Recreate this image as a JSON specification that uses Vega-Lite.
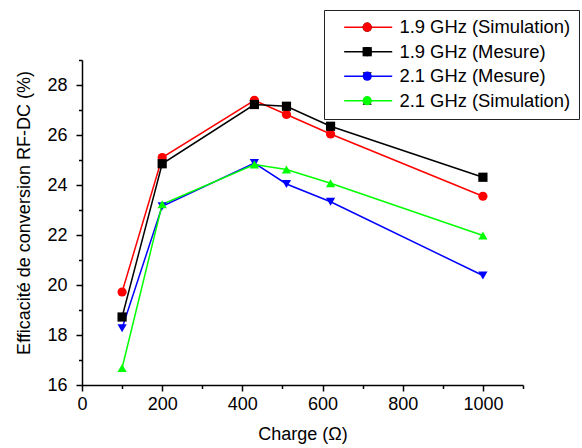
{
  "$schema": "https://vega.github.io/schema/vega-lite/v6.json",
  "width": 441,
  "height": 325,
  "autosize": {"type": "none"},
  "padding": {"left": 82, "top": 60, "right": 59, "bottom": 63},
  "background": "white",
  "config": {
    "view": {"stroke": null},
    "font": "Liberation Sans",
    "axis": {
      "grid": false,
      "domainColor": "black",
      "domainWidth": 1.5,
      "tickColor": "black",
      "tickWidth": 1.5,
      "labelColor": "black",
      "labelFont": "Liberation Sans",
      "labelFontSize": 18,
      "titleFont": "Liberation Sans",
      "titleFontSize": 18,
      "titleFontWeight": "normal",
      "titleColor": "black"
    }
  },
  "data": {
    "values": [
      {"series": "1.9 GHz (Simulation)", "charge": 100, "eff": 19.72},
      {"series": "1.9 GHz (Simulation)", "charge": 200, "eff": 25.10},
      {"series": "1.9 GHz (Simulation)", "charge": 430, "eff": 27.39},
      {"series": "1.9 GHz (Simulation)", "charge": 510, "eff": 26.82},
      {"series": "1.9 GHz (Simulation)", "charge": 620, "eff": 26.04},
      {"series": "1.9 GHz (Simulation)", "charge": 1000, "eff": 23.55},
      {"series": "1.9 GHz (Mesure)", "charge": 100, "eff": 18.72},
      {"series": "1.9 GHz (Mesure)", "charge": 200, "eff": 24.85},
      {"series": "1.9 GHz (Mesure)", "charge": 430, "eff": 27.22},
      {"series": "1.9 GHz (Mesure)", "charge": 510, "eff": 27.15},
      {"series": "1.9 GHz (Mesure)", "charge": 620, "eff": 26.35},
      {"series": "1.9 GHz (Mesure)", "charge": 1000, "eff": 24.31},
      {"series": "2.1 GHz (Mesure)", "charge": 100, "eff": 18.27},
      {"series": "2.1 GHz (Mesure)", "charge": 200, "eff": 23.15},
      {"series": "2.1 GHz (Mesure)", "charge": 430, "eff": 24.88},
      {"series": "2.1 GHz (Mesure)", "charge": 510, "eff": 24.04},
      {"series": "2.1 GHz (Mesure)", "charge": 620, "eff": 23.33},
      {"series": "2.1 GHz (Mesure)", "charge": 1000, "eff": 20.38},
      {"series": "2.1 GHz (Simulation)", "charge": 100, "eff": 16.68},
      {"series": "2.1 GHz (Simulation)", "charge": 200, "eff": 23.23},
      {"series": "2.1 GHz (Simulation)", "charge": 430, "eff": 24.82},
      {"series": "2.1 GHz (Simulation)", "charge": 510, "eff": 24.62},
      {"series": "2.1 GHz (Simulation)", "charge": 620, "eff": 24.07},
      {"series": "2.1 GHz (Simulation)", "charge": 1000, "eff": 21.98}
    ]
  },
  "encoding": {
    "x": {
      "field": "charge",
      "type": "quantitative",
      "scale": {"domain": [0, 1100], "nice": false, "zero": false},
      "axis": {
        "title": "Charge (Ω)",
        "values": [0, 100, 200, 300, 400, 500, 600, 700, 800, 900, 1000, 1100],
        "format": "d",
        "labelExpr": "datum.value % 200 === 0 ? datum.label : ''",
        "tickSize": {"condition": {"test": "datum.value % 200 === 0", "value": 6}, "value": 3.5},
        "labelPadding": 4,
        "titlePadding": 12,
        "labelFlush": false,
        "labelOverlap": false
      }
    },
    "y": {
      "field": "eff",
      "type": "quantitative",
      "scale": {"domain": [16, 29], "nice": false, "zero": false},
      "axis": {
        "title": "Efficacité de conversion RF-DC (%)",
        "values": [16, 17, 18, 19, 20, 21, 22, 23, 24, 25, 26, 27, 28, 29],
        "format": "d",
        "labelExpr": "datum.value % 2 === 0 ? datum.label : ''",
        "tickSize": {"condition": {"test": "datum.value % 2 === 0", "value": 6}, "value": 3.5},
        "labelPadding": 9,
        "labelFlush": false,
        "labelOverlap": false,
        "titleX": -49,
        "titleY": 152.5,
        "titleAlign": "center"
      }
    }
  },
  "layer": [
    {
      "mark": {"type": "line", "strokeWidth": 1.5},
      "encoding": {
        "stroke": {
          "field": "series",
          "type": "nominal",
          "scale": {
            "domain": ["1.9 GHz (Simulation)", "1.9 GHz (Mesure)", "2.1 GHz (Mesure)", "2.1 GHz (Simulation)"],
            "range": ["#ff0000", "#000000", "#0000ff", "#00ff00"]
          },
          "legend": {
            "title": null,
            "orient": "none",
            "legendX": 242,
            "legendY": -50,
            "padding": 8,
            "strokeColor": "#222222",
            "symbolType": "M-3.43,0H3.43",
            "symbolSize": 196,
            "symbolStrokeWidth": 1.5,
            "symbolOffset": 27,
            "labelOffset": 22,
            "rowPadding": 5.5,
            "labelFont": "Liberation Sans",
            "labelFontSize": 18.4,
            "labelColor": "black",
            "labelLimit": 400
          }
        }
      }
    },
    {
      "mark": {"type": "point", "filled": true, "opacity": 1, "size": 85, "strokeWidth": 0},
      "encoding": {
        "fill": {
          "field": "series",
          "type": "nominal",
          "sort": ["1.9 GHz (Simulation)", "1.9 GHz (Mesure)", "2.1 GHz (Mesure)", "2.1 GHz (Simulation)"],
          "scale": {"range": ["#ff0000", "#000000", "#0000ff", "#00ff00"]},
          "legend": {
            "title": null,
            "orient": "none",
            "legendX": 242,
            "legendY": -50,
            "padding": 8,
            "symbolSize": 85,
            "symbolStrokeWidth": 0,
            "symbolOpacity": 1,
            "symbolOffset": 26,
            "labelOffset": 6,
            "rowPadding": 5.5,
            "labelFont": "Liberation Sans",
            "labelFontSize": 18.4,
            "labelOpacity": 0,
            "labelLimit": 400
          }
        },
        "shape": {
          "field": "series",
          "type": "nominal",
          "sort": ["1.9 GHz (Simulation)", "1.9 GHz (Mesure)", "2.1 GHz (Mesure)", "2.1 GHz (Simulation)"],
          "scale": {"range": ["circle", "square", "triangle-down", "triangle-up"]},
          "legend": {
            "title": null,
            "orient": "none",
            "legendX": 242,
            "legendY": -50,
            "padding": 8,
            "symbolSize": 85,
            "symbolStrokeWidth": 0,
            "symbolOpacity": 1,
            "symbolOffset": 26,
            "labelOffset": 6,
            "rowPadding": 5.5,
            "labelFont": "Liberation Sans",
            "labelFontSize": 18.4,
            "labelOpacity": 0,
            "labelLimit": 400
          }
        }
      }
    }
  ]
}
